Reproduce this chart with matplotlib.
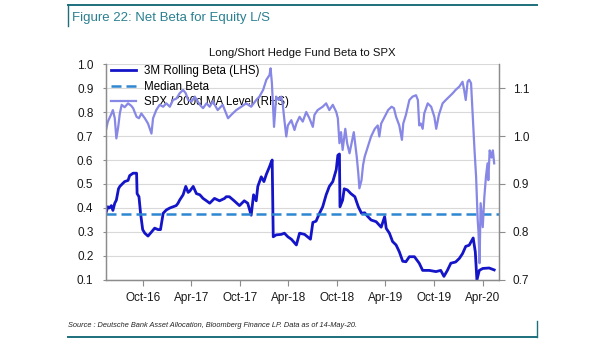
import matplotlib
matplotlib.use("Agg")
import matplotlib.pyplot as plt
import matplotlib.dates as mdates
from matplotlib.lines import Line2D
import pandas as pd

plt.rcParams['font.family'] = ['Liberation Sans', 'DejaVu Sans']

# 3M rolling beta of L/S hedge funds to SPX (left axis)
beta_dates = [
    "2016-05-15", "2016-05-22", "2016-05-28", "2016-06-04", "2016-06-10", "2016-06-17",
    "2016-06-23", "2016-07-01", "2016-07-06", "2016-07-15", "2016-07-24", "2016-08-06",
    "2016-08-12", "2016-08-25", "2016-09-07", "2016-09-09", "2016-09-16", "2016-09-22",
    "2016-09-30", "2016-10-08", "2016-10-20", "2016-11-02", "2016-11-14", "2016-11-27",
    "2016-12-06", "2016-12-16", "2016-12-28", "2017-01-10", "2017-01-22", "2017-02-03",
    "2017-02-10", "2017-02-16", "2017-03-01", "2017-03-11", "2017-03-20", "2017-03-26",
    "2017-04-08", "2017-04-20", "2017-05-03", "2017-05-15", "2017-05-28", "2017-06-09",
    "2017-06-27", "2017-07-16", "2017-08-04", "2017-08-10", "2017-08-22", "2017-09-09",
    "2017-09-29", "2017-10-17", "2017-10-30", "2017-11-12", "2017-11-21", "2017-12-01",
    "2017-12-07", "2017-12-20", "2017-12-30", "2018-01-08", "2018-01-20", "2018-01-26",
    "2018-01-30", "2018-02-03", "2018-02-14", "2018-03-05", "2018-03-17", "2018-03-30",
    "2018-04-12", "2018-05-01", "2018-05-13", "2018-06-01", "2018-06-23", "2018-07-02",
    "2018-07-14", "2018-07-27", "2018-08-08", "2018-08-21", "2018-09-02", "2018-09-15",
    "2018-09-28", "2018-10-04", "2018-10-10", "2018-10-12", "2018-10-22", "2018-10-28",
    "2018-11-09", "2018-11-22", "2018-12-07", "2018-12-20", "2019-01-01", "2019-01-13",
    "2019-01-25", "2019-02-06", "2019-02-25", "2019-03-16", "2019-03-29", "2019-04-04",
    "2019-04-16", "2019-04-28", "2019-05-11", "2019-05-23", "2019-06-05", "2019-06-17",
    "2019-06-30", "2019-07-19", "2019-08-06", "2019-08-19", "2019-09-13", "2019-10-08",
    "2019-10-26", "2019-11-07", "2019-11-20", "2019-12-03", "2019-12-21", "2020-01-04",
    "2020-01-16", "2020-01-28", "2020-02-10", "2020-02-25", "2020-03-04", "2020-03-10",
    "2020-03-19", "2020-04-01", "2020-04-25", "2020-05-14",
]
beta_vals = [
    0.38, 0.405, 0.40, 0.41, 0.39, 0.42,
    0.433, 0.48, 0.49, 0.50, 0.51, 0.515,
    0.535, 0.545, 0.545, 0.46, 0.447, 0.378,
    0.31, 0.295, 0.283, 0.30, 0.316, 0.31,
    0.31, 0.378, 0.392, 0.40, 0.405, 0.41,
    0.42, 0.433, 0.455, 0.49, 0.465, 0.47,
    0.49, 0.46, 0.455, 0.44, 0.43, 0.42,
    0.44, 0.43, 0.44, 0.447, 0.447, 0.43,
    0.41, 0.43, 0.42, 0.37, 0.455, 0.43,
    0.49, 0.53, 0.51, 0.54, 0.572, 0.59,
    0.60, 0.28, 0.288, 0.29, 0.295, 0.28,
    0.27, 0.246, 0.295, 0.29, 0.27, 0.34,
    0.345, 0.378, 0.405, 0.455, 0.49, 0.51,
    0.56, 0.62, 0.625, 0.405, 0.433, 0.48,
    0.475, 0.46, 0.447, 0.405, 0.378, 0.38,
    0.364, 0.35, 0.343, 0.32, 0.364, 0.315,
    0.295, 0.26, 0.246, 0.218, 0.178, 0.176,
    0.197, 0.197, 0.17, 0.14, 0.14, 0.135,
    0.14, 0.115, 0.14, 0.17, 0.175, 0.19,
    0.21, 0.24, 0.245, 0.275, 0.217, 0.10,
    0.14, 0.148, 0.15, 0.142,
]
median_beta = 0.373

# SPX relative to its 200d moving average (right axis)
spx_dates = [
    "2016-05-15", "2016-05-22", "2016-06-05", "2016-06-10", "2016-06-17", "2016-06-23",
    "2016-06-30", "2016-07-06", "2016-07-13", "2016-07-24", "2016-08-06", "2016-08-18",
    "2016-08-25", "2016-09-07", "2016-09-16", "2016-09-25", "2016-10-08", "2016-10-20",
    "2016-11-02", "2016-11-08", "2016-11-20", "2016-12-03", "2016-12-16", "2016-12-28",
    "2017-01-10", "2017-01-22", "2017-02-04", "2017-02-16", "2017-03-01", "2017-03-11",
    "2017-03-20", "2017-04-02", "2017-04-14", "2017-05-03", "2017-05-15", "2017-05-28",
    "2017-06-09", "2017-06-21", "2017-07-09", "2017-07-28", "2017-08-17", "2017-08-29",
    "2017-09-17", "2017-10-06", "2017-10-24", "2017-11-12", "2017-12-01", "2017-12-13",
    "2017-12-27", "2018-01-08", "2018-01-20", "2018-01-24", "2018-01-29", "2018-02-06",
    "2018-02-14", "2018-02-23", "2018-03-05", "2018-03-11", "2018-03-17", "2018-03-24",
    "2018-03-30", "2018-04-12", "2018-04-24", "2018-05-01", "2018-05-13", "2018-05-25",
    "2018-06-07", "2018-06-19", "2018-07-02", "2018-07-08", "2018-07-20", "2018-08-08",
    "2018-08-21", "2018-09-02", "2018-09-15", "2018-09-28", "2018-10-04", "2018-10-10",
    "2018-10-16", "2018-10-22", "2018-11-01", "2018-11-08", "2018-11-17", "2018-12-03",
    "2018-12-14", "2018-12-20", "2018-12-24", "2019-01-01", "2019-01-07", "2019-01-13",
    "2019-01-25", "2019-02-06", "2019-02-20", "2019-03-03", "2019-03-09", "2019-03-16",
    "2019-03-29", "2019-04-11", "2019-04-24", "2019-05-03", "2019-05-11", "2019-05-23",
    "2019-06-02", "2019-06-07", "2019-06-17", "2019-06-30", "2019-07-12", "2019-07-25",
    "2019-08-01", "2019-08-06", "2019-08-12", "2019-08-19", "2019-08-25", "2019-09-07",
    "2019-09-20", "2019-10-02", "2019-10-09", "2019-10-19", "2019-11-02", "2019-11-14",
    "2019-11-27", "2019-12-10", "2019-12-21", "2020-01-04", "2020-01-16", "2020-01-22",
    "2020-01-28", "2020-02-04", "2020-02-10", "2020-02-17", "2020-02-23", "2020-03-01",
    "2020-03-07", "2020-03-13", "2020-03-16", "2020-03-20", "2020-03-24", "2020-04-01",
    "2020-04-07", "2020-04-13", "2020-04-19", "2020-04-22", "2020-04-27", "2020-05-04",
    "2020-05-09", "2020-05-14",
]
spx_vals = [
    1.0125, 1.03, 1.047, 1.054, 1.037, 0.995,
    1.019, 1.047, 1.065, 1.06, 1.068, 1.063,
    1.058, 1.04, 1.037, 1.047, 1.037, 1.026,
    1.005, 1.037, 1.054, 1.065, 1.061, 1.068,
    1.061, 1.075, 1.078, 1.089, 1.096, 1.089,
    1.075, 1.072, 1.082, 1.065, 1.058, 1.068,
    1.061, 1.072, 1.054, 1.065, 1.037, 1.044,
    1.054, 1.061, 1.068, 1.061, 1.075, 1.082,
    1.096, 1.117, 1.127, 1.141, 1.11, 1.019,
    1.082, 1.075, 1.082, 1.065, 1.033, 0.999,
    1.022, 1.033, 1.0125, 1.026, 1.04, 1.03,
    1.05, 1.037, 1.019, 1.044, 1.054, 1.061,
    1.068, 1.054, 1.065, 1.05, 1.037, 0.985,
    1.008, 0.971, 1.015, 0.985, 0.964, 1.008,
    0.957, 0.922, 0.891, 0.908, 0.94, 0.957,
    0.978, 0.999, 1.015, 1.022, 0.999, 1.026,
    1.04, 1.054, 1.061, 1.058, 1.04, 1.022,
    0.992, 1.026, 1.044, 1.075, 1.082, 1.085,
    1.075, 1.022, 1.026, 1.015, 1.047, 1.068,
    1.061, 1.04, 1.015, 1.044, 1.068, 1.075,
    1.082, 1.089, 1.096, 1.103, 1.113, 1.096,
    1.075, 1.113, 1.117, 1.11, 1.047, 0.971,
    0.915, 0.825, 0.80, 0.735, 0.86, 0.81,
    0.873, 0.915, 0.943, 0.908, 0.97, 0.955,
    0.97, 0.943,
]

tick_dates = ["2016-10-01", "2017-04-01", "2017-10-01", "2018-04-01",
              "2018-10-01", "2019-04-01", "2019-10-01", "2020-04-01"]

teal = '#1d6f7c'
beta_color = '#1414c8'
spx_color = '#8787e6'
median_color = '#2f86d1'
grid_color = '#d9d9d9'
spine_color = '#8c8c8c'

bd = pd.to_datetime(beta_dates)
sd = pd.to_datetime(spx_dates)

fig = plt.figure(figsize=(6.05, 3.41), dpi=100)
ax = fig.add_axes([0.1752, 0.1789, 0.6491, 0.6334])
ax2 = ax.twinx()

# left axis: beta and its median
ax.plot(bd, beta_vals, color=beta_color, lw=2.0)
ax.axhline(median_beta, color=median_color, lw=1.8, linestyle=(0, (4, 2)))
ax.set_ylim(0.1, 1.0)
ax.set_yticks([0.1, 0.2, 0.3, 0.4, 0.5, 0.6, 0.7, 0.8, 0.9, 1.0])
ax.yaxis.grid(True, color=grid_color, lw=0.8)
ax.set_axisbelow(True)

# right axis: SPX / 200d MA
ax2.plot(sd, spx_vals, color=spx_color, lw=1.6)
ax2.set_ylim(0.7, 1.15)
ax2.set_yticks([0.7, 0.8, 0.9, 1.0, 1.1])

ax.set_xlim(pd.Timestamp("2016-05-15"), pd.Timestamp("2020-05-31"))
ax.set_xticks(pd.to_datetime(tick_dates))
ax.xaxis.set_major_formatter(mdates.DateFormatter('%b-%y'))

for a in (ax, ax2):
    a.spines['top'].set_visible(False)
    for s in ('left', 'right', 'bottom'):
        a.spines[s].set_color(spine_color)
        a.spines[s].set_linewidth(0.9)
    a.tick_params(labelsize=8.5, colors='#8c8c8c', labelcolor='#1a1a1a', width=0.8)
ax.tick_params(axis='y', length=2, pad=7)
ax.tick_params(axis='x', length=4, pad=5)
ax2.tick_params(axis='y', length=4, pad=6)

handles = [
    Line2D([], [], color=beta_color, lw=2.0),
    Line2D([], [], color=median_color, lw=1.8, linestyle=(0, (4, 2))),
    Line2D([], [], color=spx_color, lw=1.6),
]
labels = ["3M Rolling Beta (LHS)", "Median Beta", "SPX / 200d MA Level (RHS)"]
ax.legend(handles, labels, loc='upper left', frameon=False, fontsize=8.3,
          handlelength=2.2, handletextpad=0.7, labelspacing=0.3,
          borderaxespad=0.0, bbox_to_anchor=(0.0, 1.015))

ax.set_title("Long/Short Hedge Fund Beta to SPX", fontsize=8.2, color='#111111', pad=6)

# header and footer frame
fig.add_artist(Line2D([67.5 / 605, 536.5 / 605], [1 - 4.5 / 341, 1 - 4.5 / 341],
                      color=teal, lw=1.4))
fig.add_artist(Line2D([67.5 / 605, 67.5 / 605], [1 - 4.5 / 341, 1 - 26 / 341],
                      color=teal, lw=1.0))
fig.text(72.5 / 605, 1 - 18.5 / 341, "Figure 22: Net Beta for Equity L/S",
         fontsize=9.5, color='#2a8090', va='center', ha='left')

fig.add_artist(Line2D([67.5 / 605, 536.5 / 605], [1 - 337 / 341, 1 - 337 / 341],
                      color=teal, lw=1.4))
fig.add_artist(Line2D([536.5 / 605, 536.5 / 605], [1 - 321 / 341, 1 - 337 / 341],
                      color=teal, lw=1.0))
fig.text(68 / 605, 1 - 325.5 / 341,
         "Source : Deutsche Bank Asset Allocation, Bloomberg Finance LP. Data as of 14-May-20.",
         fontsize=5.3, style='italic', color='#222222', va='center', ha='left')

fig.savefig("out.png", dpi=100)
